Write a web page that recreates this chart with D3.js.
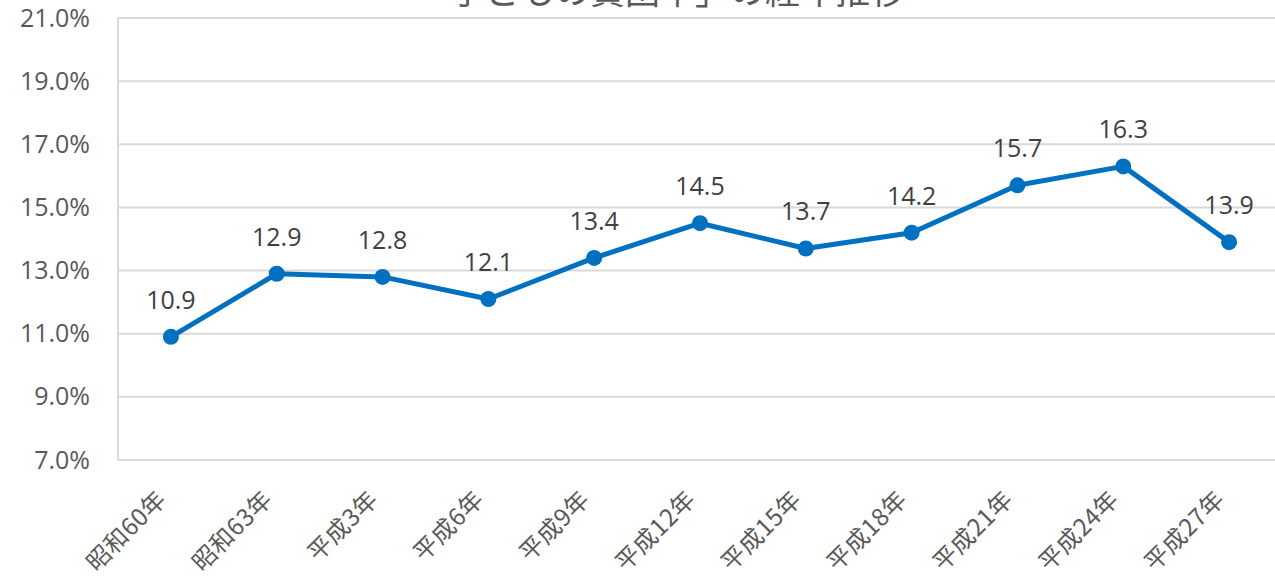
<!DOCTYPE html>
<html>
<head>
<meta charset="utf-8">
<script src="https://cdn.jsdelivr.net/npm/d3@7"></script>
<style>
  body { margin: 0; background: #fff; }
  text { font-family: "Noto Sans CJK JP", "Noto Sans", sans-serif; }
</style>
</head>
<body>
<script>
const years = ["昭和60年", "昭和63年", "平成3年", "平成6年", "平成9年", "平成12年", "平成15年", "平成18年", "平成21年", "平成24年", "平成27年"]
const rates = [10.9, 12.9, 12.8, 12.1, 13.4, 14.5, 13.7, 14.2, 15.7, 16.3, 13.9]
const yTicks = [7, 9, 11, 13, 15, 17, 19, 21]
const title = "「子どもの貧困率」の経年推移"

const width = 1275, height = 576
const m = {left: 118, right: 1282, top: 18, bottom: 460}

const svg = d3.select("body").append("svg")
    .attr("width", width)
    .attr("height", height)

const x = d3.scaleBand().domain(years).range([m.left, m.right])
const y = d3.scaleLinear().domain([7, 21]).range([m.bottom, m.top])

// gridlines
svg.append("g")
  .selectAll("line")
  .data(yTicks)
  .join("line")
    .attr("x1", m.left).attr("x2", m.right)
    .attr("y1", d => y(d)).attr("y2", d => y(d))
    .attr("stroke", "#d9d9d9")
    .attr("stroke-width", 2)

// left axis line
svg.append("line")
    .attr("x1", m.left).attr("x2", m.left)
    .attr("y1", m.top).attr("y2", m.bottom)
    .attr("stroke", "#d9d9d9")
    .attr("stroke-width", 2)

const yAxis = svg.append("g")
    .attr("transform", `translate(${m.left},0)`)
    .call(d3.axisLeft(y).tickValues(yTicks).tickFormat(d => d.toFixed(1) + "%").tickSize(0).tickPadding(28))
yAxis.select(".domain").remove()
yAxis.selectAll("text")
    .attr("fill", "#595959")
    .style("font-size", "25px")
    .style("font-family", "'Open Sans', 'Noto Sans', sans-serif")

const xAxis = svg.append("g")
    .attr("transform", `translate(0,${m.bottom})`)
    .call(d3.axisBottom(x).tickSize(0).tickPadding(0))
xAxis.select(".domain").remove()
xAxis.selectAll("text")
    .attr("fill", "#595959")
    .style("font-size", "24px")
    .style("letter-spacing", "0.5px")
    .attr("text-anchor", "end")
    .attr("dy", null)
    .attr("y", 0)
    .attr("transform", "translate(-3,41) rotate(-45)")

// title, cut at the top edge
svg.append("text")
    .attr("x", 660)
    .attr("y", 4)
    .attr("text-anchor", "middle")
    .attr("fill", "#595959")
    .style("font-size", "35px")
    .text(title)

const cx = d => x(d) + x.bandwidth() / 2
const data = years.map((d, i) => ({year: d, v: rates[i]}))

svg.append("path")
    .datum(data)
    .attr("fill", "none")
    .attr("stroke", "#0070c0")
    .attr("stroke-width", 5)
    .attr("stroke-linejoin", "round")
    .attr("d", d3.line().x(d => cx(d.year)).y(d => y(d.v)))

svg.append("g")
  .selectAll("circle")
  .data(data)
  .join("circle")
    .attr("cx", d => cx(d.year))
    .attr("cy", d => y(d.v))
    .attr("r", 8)
    .attr("fill", "#0070c0")

svg.append("g")
  .selectAll("text")
  .data(data)
  .join("text")
    .attr("x", d => cx(d.year))
    .attr("y", d => y(d.v) - 28)
    .attr("text-anchor", "middle")
    .attr("fill", "#404040")
    .style("font-size", "25px")
    .style("font-family", "'Open Sans', 'Noto Sans', sans-serif")
    .text(d => d.v.toFixed(1))
</script>
</body>
</html>
